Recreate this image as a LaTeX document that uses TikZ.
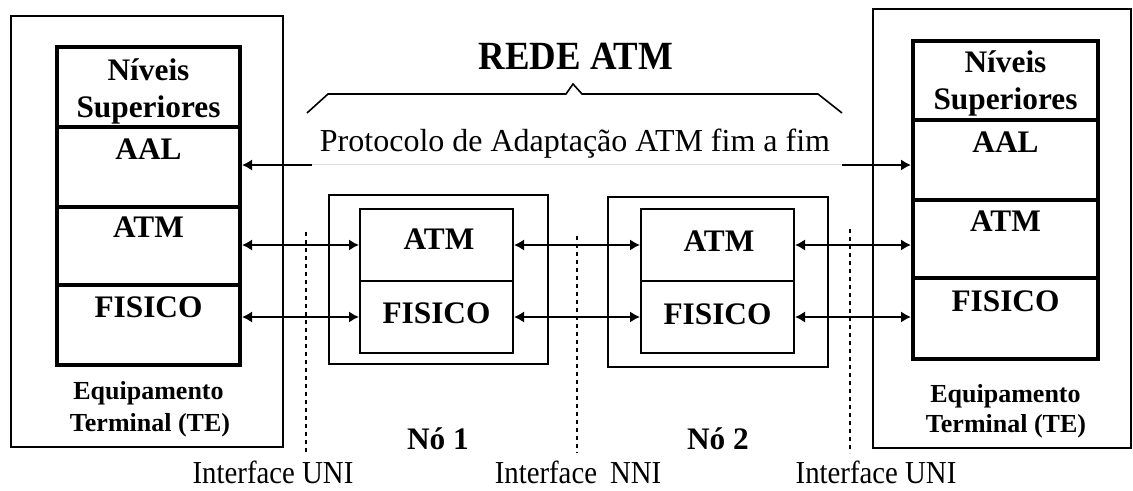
\documentclass[tikz,border=0pt]{standalone}
\usepackage{fontspec}
\setmainfont{Liberation Serif}
\usetikzlibrary{arrows.meta,fit}
\begin{document}
\begin{tikzpicture}[x=0.75pt,y=-0.75pt,
  outerbox/.style={draw, line width=1.1pt, inner sep=0pt},
  cell/.style={draw, line width=3pt, inner sep=0pt},
  nbox/.style={draw, line width=1.5pt, inner sep=0pt},
  lbl/.style={font=\bfseries\fontsize{23.5}{25}\selectfont, anchor=base, inner sep=0pt},
  te/.style={font=\bfseries\fontsize{19.5}{21}\selectfont, anchor=base, inner sep=0pt},
  plain/.style={font=\fontsize{24}{26}\selectfont, anchor=base, inner sep=0pt},
  title/.style={font=\bfseries\fontsize{30}{32}\selectfont, anchor=base, inner sep=0pt},
  link/.style={{Latex[length=7.5pt,width=8.5pt]}-{Latex[length=7.5pt,width=8.5pt]}, line width=1.5pt},
  onearrow/.style={-{Latex[length=7.5pt,width=8.5pt]}, line width=1.5pt},
  iface/.style={line width=1.6pt, dash pattern=on 3pt off 3pt},
  brace/.style={line width=1.2pt}]
\useasboundingbox (0,0) rectangle (1133,491);

% left terminal
\node[outerbox, fit={(11,16) (283,447)}] (LTE) {};
\node[cell, fit={(57,47) (240,127)}] (LNS) {};
\node[cell, fit={(57,127) (240,207)}] (LAAL) {};
\node[cell, fit={(57,207) (240,285)}] (LATM) {};
\node[cell, fit={(57,285) (240,365)}] (LFIS) {};
\node[lbl] (tLN) at (148.5,81) {Níveis};
\node[lbl] (tLS) at (148.5,118) {Superiores};
\node[lbl] (tLA) at (148.5,160) {AAL};
\node[lbl] (tLT) at (148.5,238) {ATM};
\node[lbl] (tLF) at (148.5,318) {FISICO};
\node[te] (tLE1) at (148.5,400) {Equipamento};
\node[te] (tLE2) at (150,432) {Terminal (TE)};

% right terminal
\node[outerbox, fit={(873,9) (1131,448)}] (RTE) {};
\node[cell, fit={(913,41) (1098,120)}] (RNS) {};
\node[cell, fit={(913,120) (1098,200)}] (RAAL) {};
\node[cell, fit={(913,200) (1098,278)}] (RATM) {};
\node[cell, fit={(913,278) (1098,359)}] (RFIS) {};
\node[lbl] (tRN) at (1005.5,73) {Níveis};
\node[lbl] (tRS) at (1005.5,110) {Superiores};
\node[lbl] (tRA) at (1005.5,153) {AAL};
\node[lbl] (tRT) at (1005.5,232) {ATM};
\node[lbl] (tRF) at (1005.5,312) {FISICO};
\node[te] (tRE1) at (1005.5,403) {Equipamento};
\node[te] (tRE2) at (1006,433) {Terminal (TE)};

% node 1
\node[nbox, fit={(329,195) (548,364)}] (N1) {};
\node[nbox, fit={(360,209) (513,281)}] (N1ATM) {};
\node[nbox, fit={(360,281) (513,353)}] (N1FIS) {};
\node[lbl] (t1A) at (439,250) {ATM};
\node[lbl] (t1F) at (436.5,324) {FISICO};
\node[lbl] (t1N) at (438,450) {Nó 1};

% node 2
\node[nbox, fit={(608,197) (828,367)}] (N2) {};
\node[nbox, fit={(641,209) (794,281)}] (N2ATM) {};
\node[nbox, fit={(641,281) (794,353)}] (N2FIS) {};
\node[lbl] (t2A) at (719,252) {ATM};
\node[lbl] (t2F) at (717.5,325) {FISICO};
\node[lbl] (t2N) at (718,450) {Nó 2};

% title and brace
\node[title] (title) at (576,70) {\scalebox{0.92}[1]{REDE ATM}};
\coordinate (b1) at (307,113);
\coordinate (b2) at (328,94);
\coordinate (b3) at (566,94);
\coordinate (b4) at (573,84);
\coordinate (b5) at (582,94);
\coordinate (b6) at (818,94);
\coordinate (b7) at (842,113);
\draw[brace] (b1) -- (b2) -- (b3) -- (b4) -- (b5) -- (b6) -- (b7);

% end-to-end AAL protocol
\node[plain] (proto) at (575,152) {Protocolo de Adaptação ATM fim a fim};
\coordinate (aL) at (312,165);
\coordinate (aR) at (842,165);
\draw[gray!25, line width=0.75pt] (aL) -- (aR);
\draw[onearrow] (aL) -- (LAAL.east |- aL);
\draw[onearrow] (aR) -- (RAAL.west |- aR);

% layer links
\draw[link] (LATM.east |- N1ATM.west) -- (N1ATM.west);
\draw[link] (N1ATM.east) -- (N2ATM.west);
\draw[link] (N2ATM.east) -- (RATM.west |- N2ATM.east);
\draw[link] (LFIS.east |- N1FIS.west) -- (N1FIS.west);
\draw[link] (N1FIS.east) -- (N2FIS.west);
\draw[link] (N2FIS.east) -- (RFIS.west |- N2FIS.east);

% interfaces
\coordinate (i1t) at (306,232); \coordinate (i1b) at (306,453);
\coordinate (i2t) at (577,236); \coordinate (i2b) at (577,453);
\coordinate (i3t) at (850,229); \coordinate (i3b) at (850,453);
\draw[iface] (i1t) -- (i1b);
\draw[iface] (i2t) -- (i2b);
\draw[iface] (i3t) -- (i3b);
\node[plain, text depth=0pt] (u1) at (273,484) {\scalebox{0.9}[1]{Interface UNI}};
\node[plain, text depth=0pt] (u2) at (578,484) {\scalebox{0.9}[1]{Interface\hspace{0.45em}NNI}};
\node[plain, text depth=0pt] (u3) at (876,484) {\scalebox{0.9}[1]{Interface UNI}};
\end{tikzpicture}
\end{document}
